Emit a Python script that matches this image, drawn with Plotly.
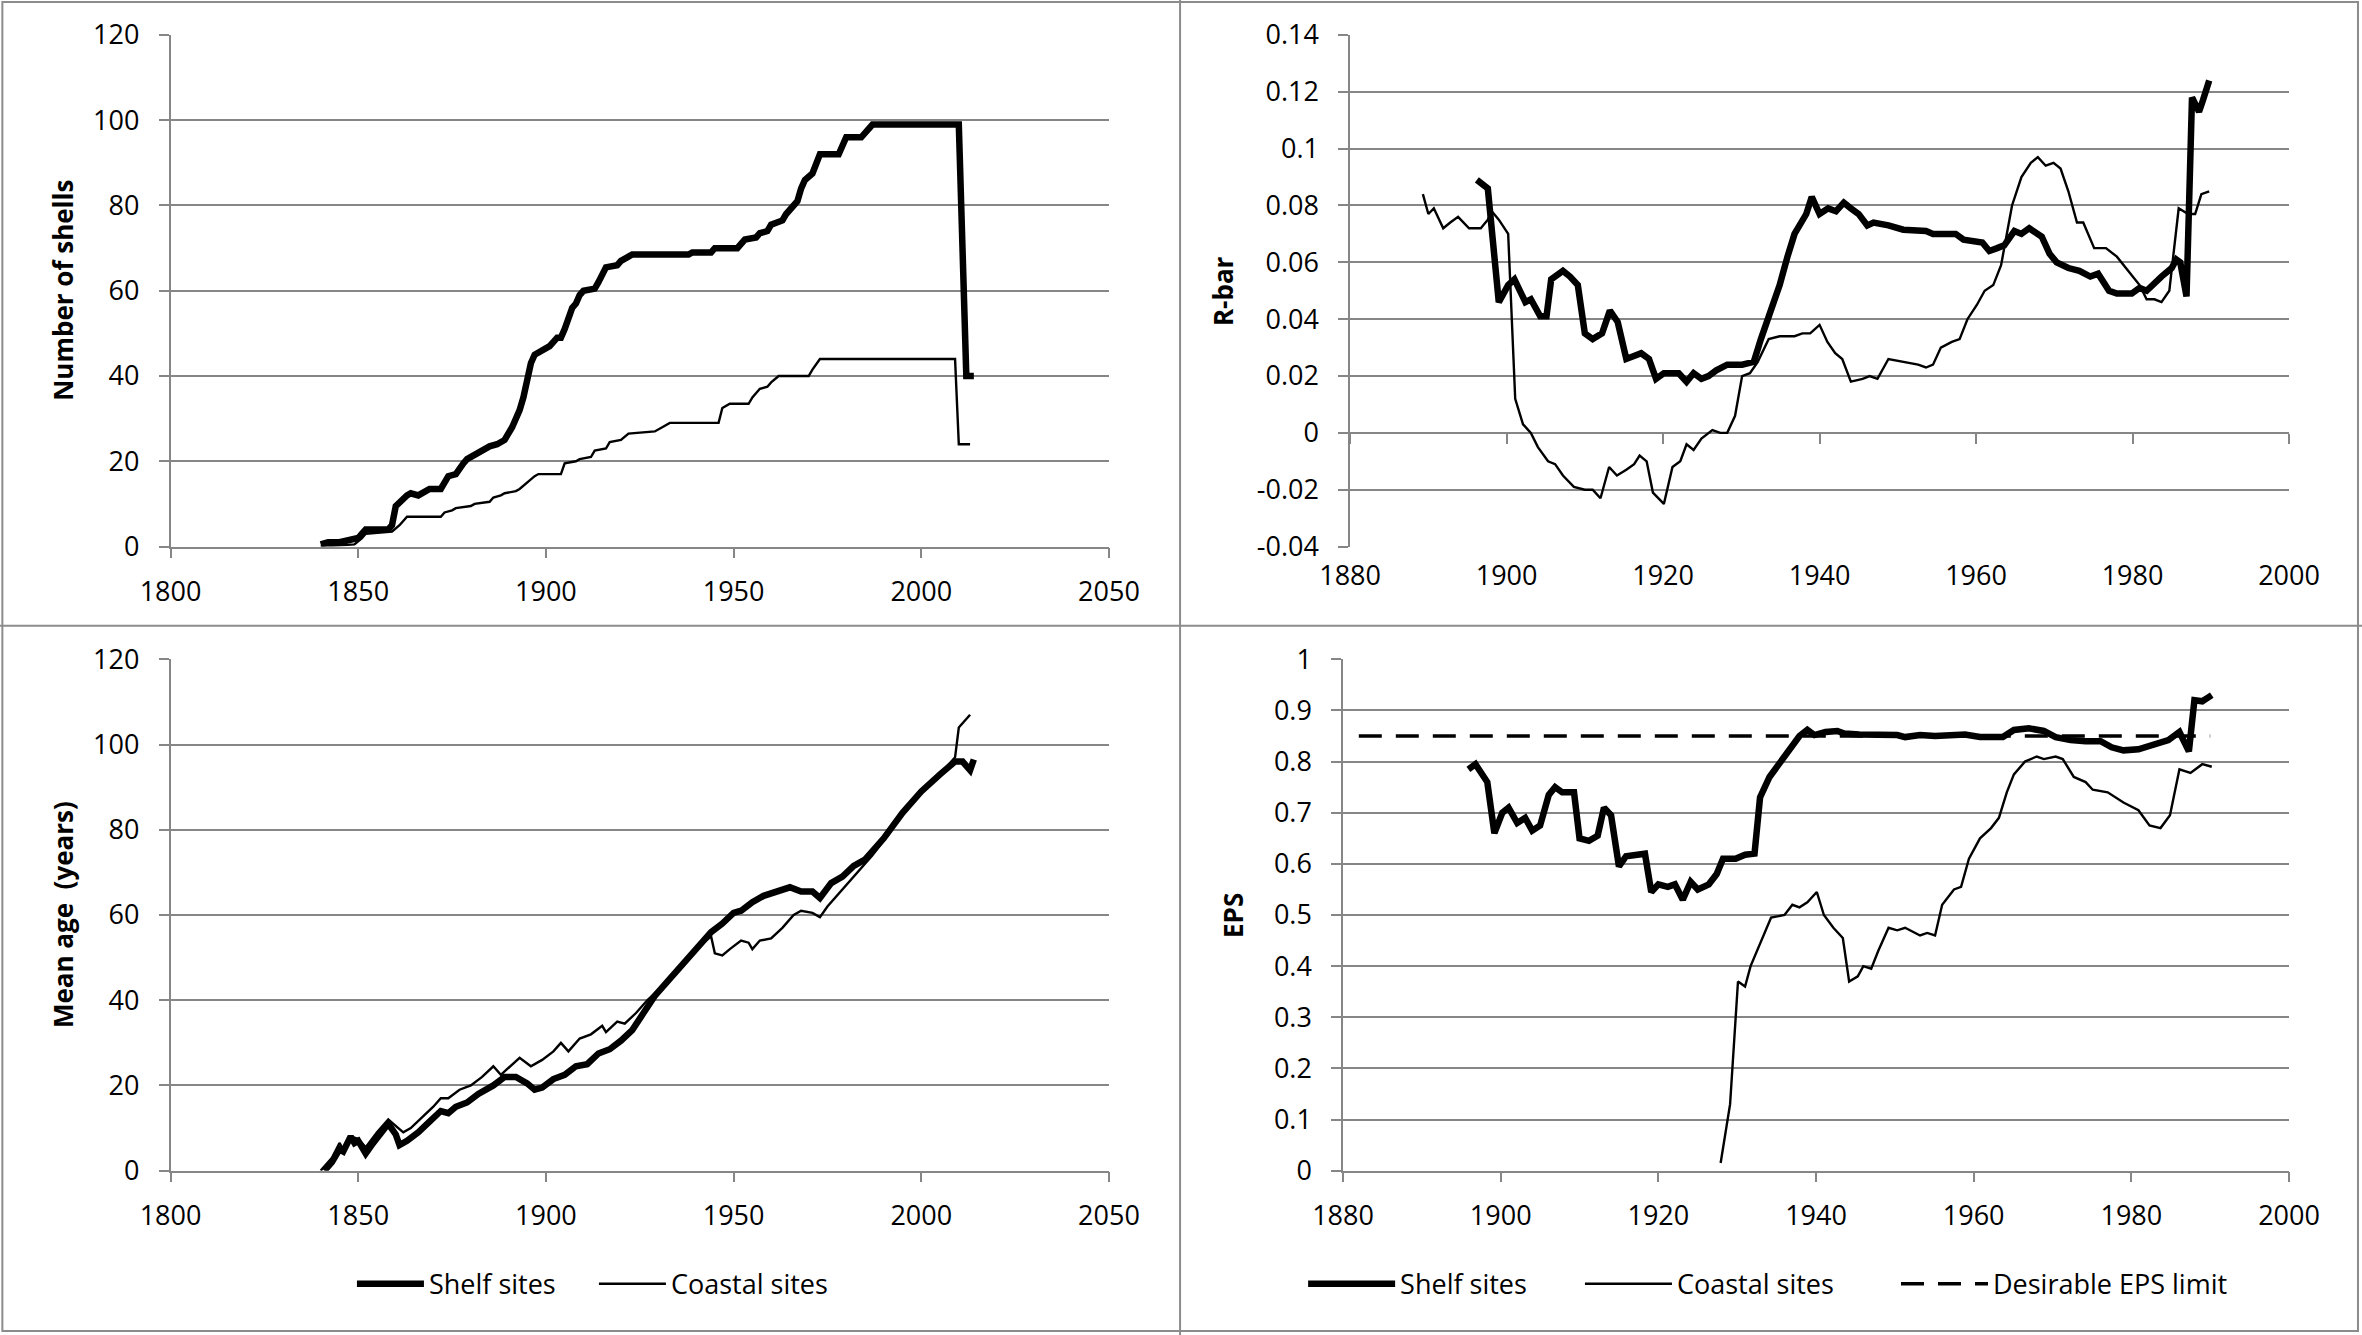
import plotly.graph_objects as go

# ---- Number of shells (top left) ----
shelf_n_year = [1840, 1842, 1845, 1847, 1849, 1850, 1851, 1852, 1858, 1859, 1860, 1861, 1862, 1863, 1864,
                1866, 1868, 1869, 1872, 1873, 1874, 1876, 1877, 1878, 1879, 1881, 1883, 1885, 1887, 1889,
                1891, 1893, 1894, 1895, 1896, 1897, 1899, 1901, 1903, 1904, 1905, 1906, 1907, 1908, 1909,
                1910, 1913, 1914, 1915, 1916, 1919, 1920, 1922, 1923, 1938, 1939, 1944, 1945, 1951, 1953,
                1956, 1957, 1959, 1960, 1963, 1964, 1966, 1967, 1968, 1969, 1971, 1972, 1973, 1978, 1979,
                1980, 1984, 1985, 1986, 1987, 2010, 2012, 2014]
shelf_n = [0.5, 1, 1, 1.5, 2, 2, 3, 4, 4, 5, 9.5, 10.5, 11, 12, 12.5,
           12, 13, 13.5, 13.5, 15, 16.5, 17, 18.5, 19.5, 20.5, 21.5, 22.5, 23.5, 24, 25,
           28, 32, 35, 40, 43, 45, 46, 47, 49, 49, 51, 54, 56, 57, 59,
           60, 60.5, 62, 64, 65.5, 66, 67, 68, 68.5, 68.5, 69, 69, 70, 70, 72,
           72.5, 73.5, 74, 75.5, 76.5, 78, 80, 81, 84, 86, 87.5, 90, 92, 92, 94,
           96, 96, 97, 98, 99, 99, 40, 40]

coast_n_year = [1840, 1849, 1851, 1852, 1859, 1861, 1863, 1872, 1873, 1875, 1876, 1880, 1881, 1885, 1886,
                1888, 1889, 1892, 1893, 1895, 1897, 1898, 1904, 1905, 1908, 1909, 1912, 1913, 1916, 1917,
                1920, 1922, 1929, 1931, 1933, 1946, 1947, 1949, 1954, 1955, 1957, 1959, 1960, 1962, 1970,
                1971, 1973, 2009, 2010, 2013]
coast_n = [0, 0.5, 2, 3, 3.5, 5, 7, 7, 8, 8.5, 9, 9.5, 10, 10.5, 11.5,
           12, 12.5, 13, 13.5, 15, 16.5, 17, 17, 19.5, 20, 20.5, 21, 22.5, 23, 24.5,
           25, 26.5, 27, 28, 29, 29, 32.5, 33.5, 33.5, 35, 37, 37.5, 38.5, 40, 40,
           41.5, 44, 44, 24, 24]

# ---- R-bar (top right) ----
shelf_r_year = [1896.2, 1897.6, 1899.0, 1900.2, 1901.0, 1902.4, 1903.1, 1904.3, 1905.1, 1905.7, 1907.2,
                1908.1, 1909.1, 1910.0, 1911.0, 1912.2, 1913.2, 1914.2, 1915.3, 1916.3, 1917.2, 1918.2,
                1919.1, 1920.1, 1922.0, 1923.0, 1923.9, 1924.9, 1925.8, 1926.8, 1928.2, 1930.1, 1931.6,
                1932.5, 1934.0, 1934.9, 1935.9, 1936.8, 1938.3, 1939.0, 1940.0, 1941.1, 1942.1, 1943.1,
                1944.0, 1945.0, 1946.1, 1946.9, 1948.8, 1950.7, 1953.6, 1954.5, 1957.4, 1958.4, 1960.8,
                1961.7, 1962.7, 1963.6, 1964.9, 1965.8, 1966.8, 1968.4, 1969.4, 1970.3, 1971.8, 1973.2,
                1974.6, 1975.6, 1977.0, 1978.0, 1979.9, 1980.9, 1981.8, 1982.8, 1983.7, 1985.0, 1985.6,
                1986.1, 1986.9, 1987.6, 1988.5, 1989.0, 1989.8]
shelf_r = [0.089, 0.086, 0.046, 0.052, 0.054, 0.046, 0.047, 0.041, 0.041, 0.054, 0.057,
           0.055, 0.052, 0.035, 0.033, 0.035, 0.043, 0.039, 0.026, 0.027, 0.028, 0.026,
           0.019, 0.021, 0.021, 0.018, 0.021, 0.019, 0.020, 0.022, 0.024, 0.024, 0.025,
           0.033, 0.045, 0.052, 0.062, 0.070, 0.077, 0.083, 0.077, 0.079, 0.078, 0.081,
           0.079, 0.077, 0.073, 0.074, 0.073, 0.0715, 0.071, 0.070, 0.070, 0.068, 0.067,
           0.064, 0.065, 0.066, 0.071, 0.070, 0.072, 0.069, 0.063, 0.060, 0.058, 0.057,
           0.055, 0.056, 0.050, 0.049, 0.049, 0.051, 0.050, 0.053, 0.055, 0.058, 0.061,
           0.060, 0.048, 0.118, 0.113, 0.117, 0.124]

coast_r_year = [1889.3, 1890.0, 1890.7, 1891.9, 1892.8, 1893.8, 1895.2, 1896.7, 1897.6, 1898.1, 1899.0,
                1900.2, 1901.1, 1902.1, 1903.1, 1904.0, 1905.3, 1906.2, 1907.2, 1908.6, 1910.0, 1911.0,
                1912.0, 1913.1, 1914.1, 1915.3, 1916.3, 1917.0, 1917.9, 1918.7, 1920.1, 1921.2, 1922.2,
                1923.0, 1923.9, 1924.9, 1926.3, 1927.3, 1928.2, 1929.2, 1930.1, 1931.1, 1932.1, 1933.5,
                1934.9, 1936.8, 1937.8, 1938.8, 1940.0, 1941.0, 1942.0, 1942.9, 1944.0, 1945.5, 1946.4,
                1947.4, 1948.8, 1950.7, 1952.6, 1953.6, 1954.5, 1955.5, 1956.9, 1957.9, 1958.9, 1960.1,
                1961.1, 1962.2, 1963.2, 1964.6, 1965.8, 1967.0, 1967.9, 1968.9, 1969.9, 1970.8, 1971.8,
                1972.9, 1973.7, 1975.1, 1976.6, 1978.0, 1979.4, 1980.9, 1981.8, 1982.8, 1983.7, 1984.7,
                1985.9, 1987.1, 1988.0, 1988.8, 1989.8]
coast_r = [0.084, 0.077, 0.079, 0.072, 0.074, 0.076, 0.072, 0.072, 0.075, 0.078, 0.075,
           0.070, 0.012, 0.003, 0.000, -0.005, -0.010, -0.011, -0.015, -0.019, -0.020, -0.020,
           -0.023, -0.012, -0.015, -0.013, -0.011, -0.008, -0.010, -0.021, -0.025, -0.012, -0.010,
           -0.004, -0.006, -0.002, 0.001, 0.000, 0.000, 0.006, 0.020, 0.021, 0.025, 0.033,
           0.034, 0.034, 0.035, 0.035, 0.038, 0.032, 0.028, 0.026, 0.018, 0.019, 0.020,
           0.019, 0.026, 0.025, 0.024, 0.023, 0.024, 0.030, 0.032, 0.033, 0.040, 0.045,
           0.050, 0.052, 0.059, 0.080, 0.090, 0.095, 0.097, 0.094, 0.095, 0.093, 0.085,
           0.074, 0.074, 0.065, 0.065, 0.062, 0.057, 0.052, 0.047, 0.047, 0.046, 0.050,
           0.079, 0.077, 0.077, 0.084, 0.085]

# ---- Mean age (bottom left) ----
shelf_age_year = [1841, 1843, 1845, 1846, 1848, 1849, 1850, 1852, 1854, 1856, 1858, 1860, 1861, 1863, 1866,
                  1869, 1872, 1874, 1876, 1879, 1882, 1886, 1889, 1892, 1895, 1897, 1899, 1902, 1905, 1908,
                  1911, 1914, 1917, 1920, 1923, 1926, 1929, 1932, 1935, 1938, 1941, 1944, 1947, 1950, 1952,
                  1955, 1958, 1961, 1965, 1968, 1971, 1973, 1976, 1979, 1982, 1985, 1990, 1995, 2000, 2005,
                  2009, 2011, 2013, 2014]
shelf_age = [0, 2, 5, 4.5, 8, 6.5, 7, 4, 6.5, 9, 11, 8.5, 6, 7, 9,
             11.5, 14, 13.5, 15, 16, 18, 20, 22, 22, 20.5, 19, 19.5, 21.5, 22.5, 24.5,
             25, 27.5, 28.5, 30.5, 33, 37, 41, 44, 47, 50, 53, 56, 58, 60.5, 61,
             63, 64.5, 65.5, 66.5, 65.5, 65.5, 64, 67.5, 69, 71.5, 73, 78, 84, 89, 93,
             96, 96, 94, 96.5]

coast_age_year = [1840, 1843, 1845, 1846, 1848, 1850, 1852, 1855, 1858, 1860, 1862, 1864, 1867, 1870, 1872,
                  1874, 1877, 1880, 1883, 1886, 1888, 1891, 1893, 1896, 1899, 1902, 1904, 1906, 1909, 1912,
                  1915, 1916, 1919, 1921, 1924, 1927, 1930, 1935, 1940, 1944, 1945, 1947, 1949, 1952, 1954,
                  1955, 1957, 1960, 1963, 1966, 1968, 1971, 1973, 1975, 1978, 1981, 1984, 1987, 1990, 1995,
                  2000, 2005, 2008, 2009, 2010, 2012, 2013]
coast_age = [0, 3, 6.5, 5, 8, 7.5, 5.5, 9, 12, 10.5, 9, 10, 12.5, 15, 17,
             17, 19, 20, 22, 24.5, 22.5, 25, 26.5, 24.5, 26, 28, 30, 28, 31, 32,
             34, 32.5, 35, 34.5, 37, 40, 42.5, 47, 52, 55, 51, 50.5, 52, 54, 53.5,
             52, 54, 54.5, 57, 60, 61, 60.5, 59.5, 62, 65, 68, 71, 74, 77.5, 83.5,
             88.5, 93, 96, 97, 104, 106, 107]

# ---- EPS (bottom right) ----
shelf_eps_year = [1895.9, 1896.8, 1898.3, 1899.2, 1900.2, 1901.0, 1902.1, 1903.1, 1904.0, 1905.0, 1906.1,
                  1906.9, 1907.8, 1909.3, 1910.0, 1911.2, 1912.3, 1913.1, 1914.0, 1915.0, 1915.9, 1917.4,
                  1918.3, 1919.1, 1920.0, 1921.2, 1922.1, 1923.1, 1924.1, 1925.0, 1926.4, 1927.4, 1928.2,
                  1929.8, 1931.0, 1932.2, 1932.9, 1934.1, 1935.5, 1936.8, 1937.9, 1938.9, 1939.8, 1941.2,
                  1942.7, 1943.6, 1945.5, 1950.3, 1951.3, 1953.2, 1955.1, 1958.9, 1960.8, 1963.7, 1965.1,
                  1967.0, 1968.9, 1970.4, 1972.3, 1974.2, 1976.1, 1977.5, 1979.0, 1980.9, 1982.8, 1984.7,
                  1986.1, 1987.3, 1988.0, 1989.0, 1990.2]
shelf_eps = [0.785, 0.795, 0.76, 0.66, 0.70, 0.71, 0.68, 0.69, 0.665, 0.675, 0.735,
             0.75, 0.74, 0.74, 0.65, 0.645, 0.655, 0.71, 0.695, 0.595, 0.615, 0.62,
             0.62, 0.545, 0.56, 0.555, 0.56, 0.53, 0.565, 0.55, 0.56, 0.58, 0.61,
             0.61, 0.618, 0.62, 0.73, 0.77, 0.80, 0.825, 0.85, 0.862, 0.852, 0.858,
             0.86, 0.855, 0.853, 0.852, 0.848, 0.852, 0.85, 0.853, 0.848, 0.848, 0.862,
             0.865, 0.86, 0.848, 0.842, 0.84, 0.84, 0.828, 0.822, 0.824, 0.832, 0.842,
             0.858, 0.82, 0.92, 0.918, 0.93]

coast_eps_year = [1927.9, 1929.1, 1930.1, 1931.0, 1931.7, 1933.1, 1934.3, 1936.0, 1937.0, 1937.9, 1938.9,
                  1940.1, 1941.0, 1942.2, 1943.4, 1944.2, 1945.3, 1946.0, 1947.0, 1947.9, 1949.2, 1950.3,
                  1951.3, 1953.2, 1954.1, 1955.1, 1956.0, 1957.5, 1958.4, 1959.4, 1960.8, 1962.2, 1963.2,
                  1964.2, 1965.1, 1966.5, 1968.0, 1968.9, 1970.4, 1971.3, 1972.7, 1974.2, 1975.1, 1977.0,
                  1979.0, 1980.9, 1982.3, 1983.7, 1984.9, 1986.1, 1987.5, 1989.0, 1990.2]
coast_eps = [0.015, 0.13, 0.37, 0.36, 0.40, 0.45, 0.495, 0.50, 0.52, 0.515, 0.525,
             0.545, 0.50, 0.475, 0.455, 0.37, 0.38, 0.40, 0.395, 0.43, 0.475, 0.47,
             0.475, 0.46, 0.465, 0.46, 0.52, 0.55, 0.555, 0.61, 0.65, 0.67, 0.69,
             0.74, 0.775, 0.80, 0.81, 0.805, 0.81, 0.805, 0.77, 0.76, 0.745, 0.74,
             0.72, 0.705, 0.675, 0.67, 0.695, 0.785, 0.778, 0.795, 0.79]

eps_limit_year = [1882, 1990]
eps_limit = [0.85, 0.85]

# tick labels
rbar_ticks = [-0.04, -0.02, 0, 0.02, 0.04, 0.06, 0.08, 0.1, 0.12, 0.14]
rbar_labels = ["-0.04", "-0.02", "0", "0.02", "0.04", "0.06", "0.08", "0.1", "0.12", "0.14"]
eps_ticks = [0, 0.1, 0.2, 0.3, 0.4, 0.5, 0.6, 0.7, 0.8, 0.9, 1]
eps_labels = ["0", "0.1", "0.2", "0.3", "0.4", "0.5", "0.6", "0.7", "0.8", "0.9", "1"]

FONT = "Open Sans"
GRID = "#868686"
THICK = 6.5
THIN = 2.4

fig = go.Figure()


def line(x, y, name, width, xa, ya, legend=None, dash=None):
    fig.add_trace(go.Scatter(x=x, y=y, mode="lines", name=name,
                             line=dict(color="black", width=width, dash=dash),
                             xaxis=xa, yaxis=ya, showlegend=legend is not None,
                             legend=legend or "legend"))


line(shelf_n_year, shelf_n, "Shelf sites", THICK, "x", "y")
line(coast_n_year, coast_n, "Coastal sites", THIN, "x", "y")
line(shelf_r_year, shelf_r, "Shelf sites", THICK, "x2", "y2")
# coastal R-bar sits on the overlay axis that crosses at zero (same range as x2)
line(coast_r_year, coast_r, "Coastal sites", THIN, "x5", "y2")
line(shelf_age_year, shelf_age, "Shelf sites", THICK, "x3", "y3", legend="legend")
line(coast_age_year, coast_age, "Coastal sites", THIN, "x3", "y3", legend="legend")
line(shelf_eps_year, shelf_eps, "Shelf sites", THICK, "x4", "y4", legend="legend2")
line(coast_eps_year, coast_eps, "Coastal sites", THIN, "x4", "y4", legend="legend3")
line(eps_limit_year, eps_limit, "Desirable EPS limit", 3.5, "x4", "y4", legend="legend4", dash="23px,14px")

tickfont = dict(family=FONT, size=27, color="black")

xbase = dict(showgrid=False, zeroline=False, showline=True, linecolor=GRID, linewidth=1.5,
             ticks="outside", ticklen=10, tickwidth=1.5, tickcolor=GRID, automargin=False,
             tickfont=tickfont, ticklabelstandoff=10)
ybase = dict(showgrid=True, gridcolor=GRID, gridwidth=1.5, zeroline=False,
             showline=True, linecolor=GRID, linewidth=1.5, automargin=False,
             ticks="outside", ticklen=10, tickwidth=1.5, tickcolor=GRID,
             tickfont=tickfont, ticklabelstandoff=14)

XL = [0.0722, 0.4695]
XTR = [0.5716, 0.9691]
XBR = [0.5686, 0.9691]
YT = [0.5906, 0.9738]
YB = [0.1231, 0.5061]

legend_style = dict(orientation="h", y=0.038, xanchor="left", yanchor="middle",
                    itemwidth=67, font=dict(family=FONT, size=27),
                    bgcolor="rgba(0,0,0,0)")

fig.update_layout(
    template="none",
    xaxis=dict(xbase, domain=XL, anchor="y", range=[1800, 2050], dtick=50, tick0=1800),
    yaxis=dict(ybase, domain=YT, anchor="x", range=[0, 120], dtick=20),
    xaxis2=dict(xbase, domain=XTR, anchor="y2", range=[1880, 2000], dtick=20, tick0=1880,
                showline=False, ticks=""),
    yaxis2=dict(ybase, domain=YT, anchor="x2", range=[-0.04, 0.14],
                tickvals=rbar_ticks, ticktext=rbar_labels),
    # x axis crossing R-bar at zero: only tick marks
    xaxis5=dict(overlaying="x2", anchor="free", position=YT[0] + (0.04 / 0.18) * (YT[1] - YT[0]),
                range=[1880, 2000], dtick=20, tick0=1880, showgrid=False, zeroline=False,
                showline=False, showticklabels=False, ticks="outside", ticklen=10,
                tickwidth=1.5, tickcolor=GRID, automargin=False),
    xaxis3=dict(xbase, domain=XL, anchor="y3", range=[1800, 2050], dtick=50, tick0=1800),
    yaxis3=dict(ybase, domain=YB, anchor="x3", range=[0, 120], dtick=20),
    xaxis4=dict(xbase, domain=XBR, anchor="y4", range=[1880, 2000], dtick=20, tick0=1880),
    yaxis4=dict(ybase, domain=YB, anchor="x4", range=[0, 1],
                tickvals=eps_ticks, ticktext=eps_labels),
    width=2362, height=1335,
    margin=dict(l=0, r=0, t=0, b=0, pad=0),
    paper_bgcolor="white", plot_bgcolor="white",
    font=dict(family=FONT, color="black"),
    legend=dict(legend_style, x=0.149, entrywidthmode="pixels", entrywidth=160),
    legend2=dict(legend_style, x=0.5517, itemwidth=87),
    legend3=dict(legend_style, x=0.6689, itemwidth=87),
    legend4=dict(legend_style, x=0.8027, itemwidth=87),
)

# axis titles
titles = [("Number of shells", 0.0267, "y"), ("R-bar", 0.5175, "y2"),
          ("Mean age  (years)", 0.0267, "y3"), ("EPS", 0.5220, "y4")]
for text, xp, ya in titles:
    fig.add_annotation(text="<b>" + text + "</b>", x=xp, y=0.5, xref="paper", yref=ya + " domain",
                       xanchor="center", yanchor="middle", textangle=-90, showarrow=False,
                       font=dict(family=FONT, size=26, color="black"))

# panel frame and dividers
border = dict(color="#8c8c8c", width=2)
fig.add_shape(type="rect", xref="paper", yref="paper", x0=0.001, y0=0.003, x1=0.9983, y1=0.9985, line=border)
fig.add_shape(type="line", xref="paper", yref="paper", x0=0.4996, x1=0.4996, y0=0, y1=1, line=border)
fig.add_shape(type="line", xref="paper", yref="paper", x0=0, x1=1, y0=0.5313, y1=0.5313, line=border)

fig.write_html("out.html", config={"displayModeBar": False},
               post_script="document.body.style.margin='0';")
